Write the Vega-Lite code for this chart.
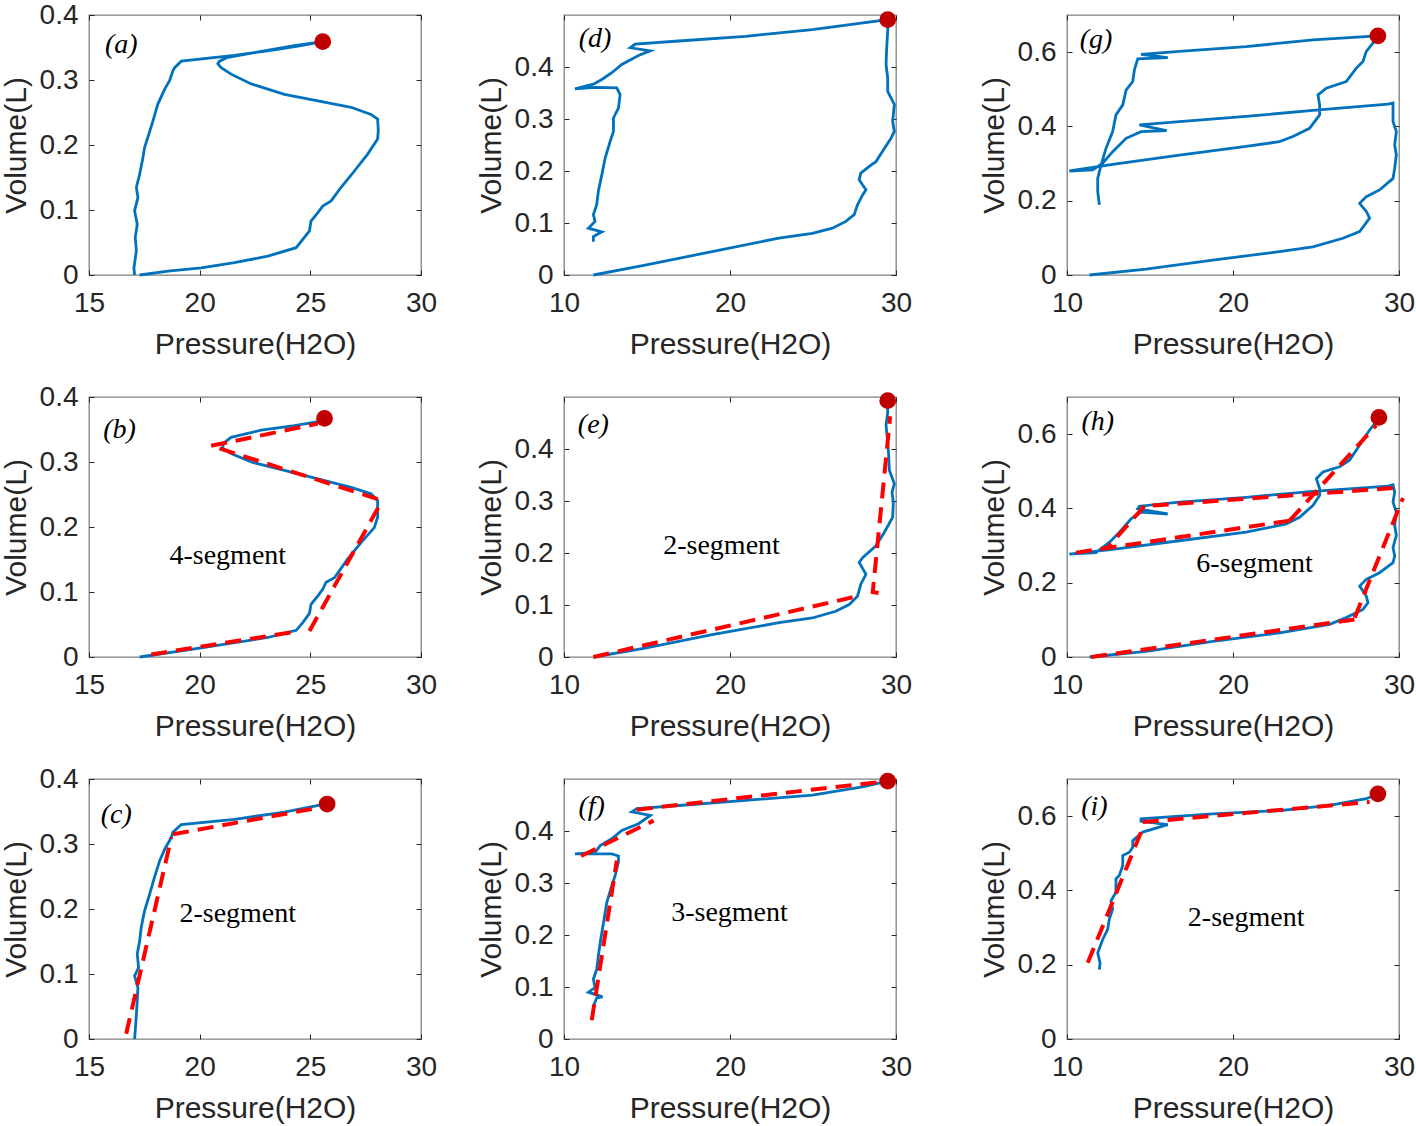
{
"$schema": "https://vega.github.io/schema/vega-lite/v6.json",
"background": "white",
"padding": {"left": 0, "top": 0, "right": 0, "bottom": 0},
"datasets": {
"blue": [
{"p":"a","x":17.06,"y":0},{"p":"a","x":17.03,"y":0.011},{"p":"a","x":17.14,"y":0.037},{"p":"a","x":17.09,"y":0.058},{"p":"a","x":17.18,"y":0.078},{"p":"a","x":17.06,"y":0.099},{"p":"a","x":17.21,"y":0.119},{"p":"a","x":17.14,"y":0.135},{"p":"a","x":17.29,"y":0.155},{"p":"a","x":17.44,"y":0.181},{"p":"a","x":17.51,"y":0.196},{"p":"a","x":17.66,"y":0.212},{"p":"a","x":17.89,"y":0.237},{"p":"a","x":18.11,"y":0.263},{"p":"a","x":18.42,"y":0.286},{"p":"a","x":18.64,"y":0.299},{"p":"a","x":18.79,"y":0.314},{"p":"a","x":18.87,"y":0.319},{"p":"a","x":19.17,"y":0.329},{"p":"a","x":21.57,"y":0.338},{"p":"a","x":23.08,"y":0.345},{"p":"a","x":24.58,"y":0.353},{"p":"a","x":25.56,"y":0.359},{"p":"a","x":24.28,"y":0.353},{"p":"a","x":22.78,"y":0.344},{"p":"a","x":21.27,"y":0.335},{"p":"a","x":20.9,"y":0.329},{"p":"a","x":20.82,"y":0.325},{"p":"a","x":20.97,"y":0.319},{"p":"a","x":21.42,"y":0.309},{"p":"a","x":22.33,"y":0.294},{"p":"a","x":23.83,"y":0.278},{"p":"a","x":25.34,"y":0.268},{"p":"a","x":26.84,"y":0.258},{"p":"a","x":27.74,"y":0.247},{"p":"a","x":28.04,"y":0.24},{"p":"a","x":28.07,"y":0.222},{"p":"a","x":28.04,"y":0.209},{"p":"a","x":27.59,"y":0.186},{"p":"a","x":26.99,"y":0.16},{"p":"a","x":26.39,"y":0.135},{"p":"a","x":25.94,"y":0.114},{"p":"a","x":25.56,"y":0.106},{"p":"a","x":25.34,"y":0.096},{"p":"a","x":25.03,"y":0.083},{"p":"a","x":24.96,"y":0.068},{"p":"a","x":24.73,"y":0.058},{"p":"a","x":24.36,"y":0.042},{"p":"a","x":23.08,"y":0.029},{"p":"a","x":21.57,"y":0.019},{"p":"a","x":20.07,"y":0.011},{"p":"a","x":18.57,"y":0.006},{"p":"a","x":17.29,"y":0},
{"p":"b","x":17.29,"y":0},{"p":"b","x":20.07,"y":0.014},{"p":"b","x":23.08,"y":0.03},{"p":"b","x":24.36,"y":0.041},{"p":"b","x":24.66,"y":0.053},{"p":"b","x":24.96,"y":0.067},{"p":"b","x":25.03,"y":0.081},{"p":"b","x":25.34,"y":0.094},{"p":"b","x":25.56,"y":0.104},{"p":"b","x":25.71,"y":0.115},{"p":"b","x":26.09,"y":0.122},{"p":"b","x":26.69,"y":0.151},{"p":"b","x":27.29,"y":0.176},{"p":"b","x":27.89,"y":0.199},{"p":"b","x":28.04,"y":0.215},{"p":"b","x":28.04,"y":0.241},{"p":"b","x":27.74,"y":0.251},{"p":"b","x":26.84,"y":0.261},{"p":"b","x":25.34,"y":0.274},{"p":"b","x":23.83,"y":0.287},{"p":"b","x":22.33,"y":0.3},{"p":"b","x":21.42,"y":0.313},{"p":"b","x":21.05,"y":0.321},{"p":"b","x":21.05,"y":0.328},{"p":"b","x":21.42,"y":0.338},{"p":"b","x":22.78,"y":0.349},{"p":"b","x":24.28,"y":0.356},{"p":"b","x":25.34,"y":0.362},
{"p":"c","x":17.06,"y":0},{"p":"c","x":17.09,"y":0.013},{"p":"c","x":17.14,"y":0.038},{"p":"c","x":17.18,"y":0.059},{"p":"c","x":17.21,"y":0.079},{"p":"c","x":17.06,"y":0.097},{"p":"c","x":17.24,"y":0.11},{"p":"c","x":17.18,"y":0.131},{"p":"c","x":17.29,"y":0.151},{"p":"c","x":17.36,"y":0.172},{"p":"c","x":17.51,"y":0.197},{"p":"c","x":17.74,"y":0.223},{"p":"c","x":17.96,"y":0.249},{"p":"c","x":18.19,"y":0.274},{"p":"c","x":18.42,"y":0.292},{"p":"c","x":18.72,"y":0.31},{"p":"c","x":18.79,"y":0.318},{"p":"c","x":19.17,"y":0.33},{"p":"c","x":21.57,"y":0.338},{"p":"c","x":23.83,"y":0.349},{"p":"c","x":25.76,"y":0.362},
{"p":"d","x":11.77,"y":0},{"p":"d","x":14.89,"y":0.019},{"p":"d","x":18.92,"y":0.045},{"p":"d","x":22.95,"y":0.071},{"p":"d","x":24.96,"y":0.08},{"p":"d","x":26.17,"y":0.09},{"p":"d","x":26.98,"y":0.103},{"p":"d","x":27.48,"y":0.116},{"p":"d","x":27.68,"y":0.135},{"p":"d","x":27.99,"y":0.154},{"p":"d","x":28.19,"y":0.164},{"p":"d","x":27.99,"y":0.173},{"p":"d","x":27.78,"y":0.183},{"p":"d","x":27.88,"y":0.196},{"p":"d","x":28.39,"y":0.209},{"p":"d","x":28.79,"y":0.218},{"p":"d","x":29.19,"y":0.238},{"p":"d","x":29.7,"y":0.263},{"p":"d","x":29.9,"y":0.276},{"p":"d","x":29.8,"y":0.295},{"p":"d","x":29.9,"y":0.328},{"p":"d","x":29.5,"y":0.353},{"p":"d","x":29.5,"y":0.379},{"p":"d","x":29.4,"y":0.405},{"p":"d","x":29.44,"y":0.437},{"p":"d","x":29.5,"y":0.469},{"p":"d","x":29.5,"y":0.491},{"p":"d","x":24.96,"y":0.472},{"p":"d","x":20.94,"y":0.459},{"p":"d","x":16.91,"y":0.45},{"p":"d","x":14.29,"y":0.444},{"p":"d","x":13.99,"y":0.437},{"p":"d","x":15.2,"y":0.431},{"p":"d","x":14.49,"y":0.422},{"p":"d","x":13.48,"y":0.405},{"p":"d","x":12.88,"y":0.389},{"p":"d","x":12.28,"y":0.376},{"p":"d","x":11.77,"y":0.367},{"p":"d","x":10.66,"y":0.358},{"p":"d","x":11.87,"y":0.361},{"p":"d","x":13.18,"y":0.36},{"p":"d","x":13.38,"y":0.347},{"p":"d","x":13.28,"y":0.321},{"p":"d","x":12.98,"y":0.302},{"p":"d","x":12.98,"y":0.276},{"p":"d","x":12.78,"y":0.257},{"p":"d","x":12.48,"y":0.225},{"p":"d","x":12.28,"y":0.193},{"p":"d","x":12.07,"y":0.161},{"p":"d","x":11.97,"y":0.135},{"p":"d","x":11.77,"y":0.116},{"p":"d","x":11.87,"y":0.103},{"p":"d","x":11.47,"y":0.09},{"p":"d","x":12.28,"y":0.083},{"p":"d","x":11.77,"y":0.074},{"p":"d","x":11.77,"y":0.064},
{"p":"e","x":11.77,"y":0},{"p":"e","x":14.89,"y":0.017},{"p":"e","x":18.92,"y":0.043},{"p":"e","x":22.95,"y":0.066},{"p":"e","x":24.96,"y":0.075},{"p":"e","x":26.37,"y":0.088},{"p":"e","x":27.18,"y":0.101},{"p":"e","x":27.68,"y":0.117},{"p":"e","x":27.88,"y":0.14},{"p":"e","x":28.19,"y":0.159},{"p":"e","x":27.78,"y":0.182},{"p":"e","x":27.99,"y":0.191},{"p":"e","x":28.79,"y":0.214},{"p":"e","x":29.3,"y":0.24},{"p":"e","x":29.8,"y":0.269},{"p":"e","x":29.84,"y":0.297},{"p":"e","x":29.76,"y":0.317},{"p":"e","x":29.9,"y":0.333},{"p":"e","x":29.6,"y":0.359},{"p":"e","x":29.56,"y":0.388},{"p":"e","x":29.5,"y":0.413},{"p":"e","x":29.4,"y":0.446},{"p":"e","x":29.5,"y":0.471},{"p":"e","x":29.5,"y":0.493},
{"p":"f","x":11.77,"y":0.063},{"p":"f","x":11.97,"y":0.079},{"p":"f","x":12.32,"y":0.081},{"p":"f","x":11.47,"y":0.09},{"p":"f","x":11.87,"y":0.099},{"p":"f","x":11.77,"y":0.115},{"p":"f","x":11.97,"y":0.134},{"p":"f","x":12.07,"y":0.16},{"p":"f","x":12.18,"y":0.185},{"p":"f","x":12.38,"y":0.224},{"p":"f","x":12.58,"y":0.263},{"p":"f","x":12.88,"y":0.295},{"p":"f","x":13.08,"y":0.314},{"p":"f","x":13.28,"y":0.34},{"p":"f","x":13.28,"y":0.352},{"p":"f","x":12.88,"y":0.356},{"p":"f","x":10.66,"y":0.356},{"p":"f","x":11.87,"y":0.359},{"p":"f","x":12.18,"y":0.372},{"p":"f","x":12.88,"y":0.385},{"p":"f","x":13.48,"y":0.401},{"p":"f","x":14.49,"y":0.414},{"p":"f","x":15.2,"y":0.43},{"p":"f","x":14.09,"y":0.437},{"p":"f","x":14.39,"y":0.443},{"p":"f","x":16.91,"y":0.449},{"p":"f","x":20.94,"y":0.459},{"p":"f","x":24.96,"y":0.469},{"p":"f","x":27.98,"y":0.485},{"p":"f","x":29.5,"y":0.496},
{"p":"g","x":11.35,"y":0},{"p":"g","x":14.76,"y":0.016},{"p":"g","x":18.78,"y":0.04},{"p":"g","x":22.8,"y":0.063},{"p":"g","x":24.81,"y":0.076},{"p":"g","x":26.62,"y":0.099},{"p":"g","x":27.63,"y":0.117},{"p":"g","x":28.23,"y":0.153},{"p":"g","x":28.03,"y":0.171},{"p":"g","x":27.63,"y":0.193},{"p":"g","x":28.03,"y":0.211},{"p":"g","x":28.83,"y":0.229},{"p":"g","x":29.64,"y":0.26},{"p":"g","x":29.74,"y":0.287},{"p":"g","x":29.84,"y":0.323},{"p":"g","x":29.74,"y":0.35},{"p":"g","x":29.84,"y":0.386},{"p":"g","x":29.64,"y":0.413},{"p":"g","x":29.64,"y":0.463},{"p":"g","x":29.34,"y":0.46},{"p":"g","x":24.81,"y":0.443},{"p":"g","x":20.79,"y":0.427},{"p":"g","x":16.77,"y":0.413},{"p":"g","x":14.36,"y":0.404},{"p":"g","x":16.0,"y":0.389},{"p":"g","x":14.46,"y":0.386},{"p":"g","x":13.56,"y":0.368},{"p":"g","x":12.75,"y":0.332},{"p":"g","x":12.15,"y":0.301},{"p":"g","x":11.55,"y":0.283},{"p":"g","x":10.14,"y":0.28},{"p":"g","x":12.75,"y":0.298},{"p":"g","x":16.77,"y":0.323},{"p":"g","x":20.79,"y":0.346},{"p":"g","x":22.8,"y":0.359},{"p":"g","x":23.61,"y":0.373},{"p":"g","x":24.61,"y":0.395},{"p":"g","x":25.22,"y":0.431},{"p":"g","x":25.22,"y":0.458},{"p":"g","x":25.12,"y":0.485},{"p":"g","x":25.62,"y":0.503},{"p":"g","x":26.82,"y":0.521},{"p":"g","x":27.43,"y":0.557},{"p":"g","x":27.83,"y":0.575},{"p":"g","x":28.03,"y":0.602},{"p":"g","x":28.43,"y":0.624},{"p":"g","x":28.73,"y":0.644},{"p":"g","x":24.81,"y":0.633},{"p":"g","x":20.79,"y":0.615},{"p":"g","x":16.77,"y":0.602},{"p":"g","x":14.46,"y":0.594},{"p":"g","x":16.07,"y":0.585},{"p":"g","x":14.26,"y":0.582},{"p":"g","x":14.06,"y":0.552},{"p":"g","x":13.96,"y":0.521},{"p":"g","x":13.56,"y":0.498},{"p":"g","x":13.36,"y":0.458},{"p":"g","x":12.95,"y":0.431},{"p":"g","x":12.75,"y":0.386},{"p":"g","x":12.35,"y":0.341},{"p":"g","x":12.05,"y":0.296},{"p":"g","x":11.85,"y":0.26},{"p":"g","x":11.85,"y":0.225},{"p":"g","x":11.95,"y":0.189},
{"p":"h","x":11.35,"y":0},{"p":"h","x":14.76,"y":0.015},{"p":"h","x":18.78,"y":0.042},{"p":"h","x":22.8,"y":0.065},{"p":"h","x":25.82,"y":0.088},{"p":"h","x":26.82,"y":0.106},{"p":"h","x":27.83,"y":0.128},{"p":"h","x":28.13,"y":0.146},{"p":"h","x":28.03,"y":0.164},{"p":"h","x":27.63,"y":0.191},{"p":"h","x":28.03,"y":0.209},{"p":"h","x":28.83,"y":0.227},{"p":"h","x":29.64,"y":0.254},{"p":"h","x":29.74,"y":0.272},{"p":"h","x":29.64,"y":0.295},{"p":"h","x":29.84,"y":0.327},{"p":"h","x":29.74,"y":0.354},{"p":"h","x":29.84,"y":0.39},{"p":"h","x":29.64,"y":0.417},{"p":"h","x":29.74,"y":0.444},{"p":"h","x":29.64,"y":0.464},{"p":"h","x":29.34,"y":0.46},{"p":"h","x":24.81,"y":0.446},{"p":"h","x":20.79,"y":0.43},{"p":"h","x":16.77,"y":0.417},{"p":"h","x":14.36,"y":0.406},{"p":"h","x":14.26,"y":0.399},{"p":"h","x":16.07,"y":0.385},{"p":"h","x":14.46,"y":0.39},{"p":"h","x":13.86,"y":0.372},{"p":"h","x":13.16,"y":0.336},{"p":"h","x":12.56,"y":0.309},{"p":"h","x":11.75,"y":0.281},{"p":"h","x":10.14,"y":0.277},{"p":"h","x":12.75,"y":0.29},{"p":"h","x":16.77,"y":0.313},{"p":"h","x":20.79,"y":0.336},{"p":"h","x":23.21,"y":0.358},{"p":"h","x":24.01,"y":0.376},{"p":"h","x":24.81,"y":0.408},{"p":"h","x":25.22,"y":0.435},{"p":"h","x":25.22,"y":0.453},{"p":"h","x":25.02,"y":0.48},{"p":"h","x":25.42,"y":0.498},{"p":"h","x":26.42,"y":0.512},{"p":"h","x":27.02,"y":0.53},{"p":"h","x":27.43,"y":0.557},{"p":"h","x":27.83,"y":0.584},{"p":"h","x":28.23,"y":0.611},{"p":"h","x":28.63,"y":0.633},
{"p":"i","x":11.95,"y":0.187},{"p":"i","x":11.99,"y":0.205},{"p":"i","x":11.85,"y":0.232},{"p":"i","x":12.15,"y":0.268},{"p":"i","x":12.45,"y":0.295},{"p":"i","x":12.55,"y":0.323},{"p":"i","x":12.75,"y":0.35},{"p":"i","x":12.65,"y":0.372},{"p":"i","x":12.95,"y":0.395},{"p":"i","x":12.95,"y":0.431},{"p":"i","x":13.15,"y":0.44},{"p":"i","x":13.36,"y":0.467},{"p":"i","x":13.36,"y":0.494},{"p":"i","x":13.76,"y":0.503},{"p":"i","x":13.96,"y":0.516},{"p":"i","x":13.96,"y":0.534},{"p":"i","x":14.56,"y":0.557},{"p":"i","x":16.07,"y":0.577},{"p":"i","x":14.46,"y":0.586},{"p":"i","x":14.46,"y":0.593},{"p":"i","x":18.78,"y":0.606},{"p":"i","x":22.8,"y":0.615},{"p":"i","x":25.82,"y":0.629},{"p":"i","x":28.03,"y":0.647},{"p":"i","x":28.73,"y":0.66}
],
"red": [
{"p":"b","s":1,"x":17.81,"y":0.004},{"p":"b","s":1,"x":24.36,"y":0.039},
{"p":"b","s":2,"x":24.96,"y":0.04},{"p":"b","s":2,"x":28.12,"y":0.233},
{"p":"b","s":3,"x":28.04,"y":0.243},{"p":"b","s":3,"x":20.52,"y":0.325},
{"p":"b","s":4,"x":20.52,"y":0.325},{"p":"b","s":4,"x":25.34,"y":0.359},
{"p":"c","s":1,"x":16.68,"y":0.008},{"p":"c","s":1,"x":18.72,"y":0.31},
{"p":"c","s":2,"x":18.8,"y":0.315},{"p":"c","s":2,"x":25.56,"y":0.357},
{"p":"e","s":1,"x":11.77,"y":0},{"p":"e","s":1,"x":27.68,"y":0.117},
{"p":"e","s":2,"x":28.95,"y":0.123},{"p":"e","s":2,"x":28.6,"y":0.125},{"p":"e","s":2,"x":29.65,"y":0.463},
{"p":"f","s":1,"x":11.67,"y":0.036},{"p":"f","s":1,"x":13.18,"y":0.343},
{"p":"f","s":2,"x":11.03,"y":0.352},{"p":"f","s":2,"x":15.4,"y":0.42},
{"p":"f","s":3,"x":14.39,"y":0.441},{"p":"f","s":3,"x":29.5,"y":0.496},
{"p":"h","s":1,"x":11.45,"y":0},{"p":"h","s":1,"x":27.63,"y":0.103},
{"p":"h","s":2,"x":27.33,"y":0.106},{"p":"h","s":2,"x":30.24,"y":0.428},
{"p":"h","s":3,"x":29.64,"y":0.455},{"p":"h","s":3,"x":14.66,"y":0.406},
{"p":"h","s":4,"x":14.66,"y":0.406},{"p":"h","s":4,"x":12.45,"y":0.295},
{"p":"h","s":5,"x":10.54,"y":0.281},{"p":"h","s":5,"x":23.41,"y":0.367},
{"p":"h","s":6,"x":23.41,"y":0.367},{"p":"h","s":6,"x":28.63,"y":0.624},
{"p":"i","s":1,"x":11.25,"y":0.205},{"p":"i","s":1,"x":14.46,"y":0.557},
{"p":"i","s":2,"x":14.56,"y":0.584},{"p":"i","s":2,"x":28.23,"y":0.638}
],
"dots": [
{"p":"a","x":25.56,"y":0.359},{"p":"b","x":25.64,"y":0.367},{"p":"c","x":25.76,"y":0.3615},
{"p":"d","x":29.5,"y":0.491},{"p":"e","x":29.5,"y":0.493},{"p":"f","x":29.5,"y":0.496},
{"p":"g","x":28.73,"y":0.644},{"p":"h","x":28.79,"y":0.645},{"p":"i","x":28.73,"y":0.66}
],
"tags": [
{"p":"a","t":"(a)","x":16.46,"y":0.354},{"p":"b","t":"(b)","x":16.38,"y":0.349},{"p":"c","t":"(c)","x":16.23,"y":0.344},
{"p":"d","t":"(d)","x":11.87,"y":0.453},{"p":"e","t":"(e)","x":11.77,"y":0.446},{"p":"f","t":"(f)","x":11.67,"y":0.446},
{"p":"g","t":"(g)","x":11.75,"y":0.633},{"p":"h","t":"(h)","x":11.85,"y":0.633},{"p":"i","t":"(i)","x":11.65,"y":0.624}
],
"notes": [
{"p":"b","t":"4-segment","x":21.27,"y":0.156},{"p":"c","t":"2-segment","x":21.72,"y":0.193},
{"p":"e","t":"2-segment","x":19.49,"y":0.214},{"p":"f","t":"3-segment","x":19.97,"y":0.243},
{"p":"h","t":"6-segment","x":21.3,"y":0.25},{"p":"i","t":"2-segment","x":20.79,"y":0.327}
]
},
"hconcat": [
{"vconcat": [
{"width": 332, "height": 260, "resolve": {"axis": {"x": "independent", "y": "independent"}}, "layer": [
{"data": {"name": "blue"}, "transform": [{"filter": "datum.p=='a'"}], "mark": {"type": "line", "color": "#0072BD", "strokeWidth": 2.8},
 "encoding": {"x": {"field": "x", "type": "quantitative", "scale": {"domain": [15, 30], "nice": false}, "axis": {"title": "Pressure(H2O)", "values": [15, 20, 25, 30], "format": "~g"}},
  "y": {"field": "y", "type": "quantitative", "scale": {"domain": [0, 0.4], "nice": false}, "axis": {"title": "Volume(L)", "values": [0, 0.1, 0.2, 0.3, 0.4], "format": "~g"}},
  "order": {"value": null}}},
{"data": {"name": "dots"}, "transform": [{"filter": "datum.p=='a'"}], "mark": {"type": "point", "filled": true, "color": "#C00000", "opacity": 1, "size": 280},
 "encoding": {"x": {"field": "x", "type": "quantitative", "axis": {"orient": "top", "labels": false, "title": null, "values": [15, 20, 25, 30]}},
  "y": {"field": "y", "type": "quantitative", "axis": {"orient": "right", "labels": false, "title": null, "values": [0, 0.1, 0.2, 0.3, 0.4]}}}},
{"data": {"name": "tags"}, "transform": [{"filter": "datum.p=='a'"}], "mark": {"type": "text", "font": "Liberation Serif", "fontSize": 28, "fontStyle": "italic", "color": "#000000"},
 "encoding": {"x": {"field": "x", "type": "quantitative", "axis": null}, "y": {"field": "y", "type": "quantitative", "axis": null}, "text": {"field": "t"}}}
]},
{"width": 332, "height": 260, "resolve": {"axis": {"x": "independent", "y": "independent"}}, "layer": [
{"data": {"name": "blue"}, "transform": [{"filter": "datum.p=='b'"}], "mark": {"type": "line", "color": "#0072BD", "strokeWidth": 2.8},
 "encoding": {"x": {"field": "x", "type": "quantitative", "scale": {"domain": [15, 30], "nice": false}, "axis": {"title": "Pressure(H2O)", "values": [15, 20, 25, 30], "format": "~g"}},
  "y": {"field": "y", "type": "quantitative", "scale": {"domain": [0, 0.4], "nice": false}, "axis": {"title": "Volume(L)", "values": [0, 0.1, 0.2, 0.3, 0.4], "format": "~g"}},
  "order": {"value": null}}},
{"data": {"name": "red"}, "transform": [{"filter": "datum.p=='b'"}], "mark": {"type": "line", "color": "#FF0000", "strokeWidth": 4, "strokeDash": [16, 9]},
 "encoding": {"x": {"field": "x", "type": "quantitative", "axis": null}, "y": {"field": "y", "type": "quantitative", "axis": null}, "detail": {"field": "s", "type": "nominal"}, "order": {"value": null}}},
{"data": {"name": "dots"}, "transform": [{"filter": "datum.p=='b'"}], "mark": {"type": "point", "filled": true, "color": "#C00000", "opacity": 1, "size": 280},
 "encoding": {"x": {"field": "x", "type": "quantitative", "axis": {"orient": "top", "labels": false, "title": null, "values": [15, 20, 25, 30]}},
  "y": {"field": "y", "type": "quantitative", "axis": {"orient": "right", "labels": false, "title": null, "values": [0, 0.1, 0.2, 0.3, 0.4]}}}},
{"data": {"name": "tags"}, "transform": [{"filter": "datum.p=='b'"}], "mark": {"type": "text", "font": "Liberation Serif", "fontSize": 28, "fontStyle": "italic", "color": "#000000"},
 "encoding": {"x": {"field": "x", "type": "quantitative", "axis": null}, "y": {"field": "y", "type": "quantitative", "axis": null}, "text": {"field": "t"}}},
{"data": {"name": "notes"}, "transform": [{"filter": "datum.p=='b'"}], "mark": {"type": "text", "font": "Liberation Serif", "fontSize": 28, "color": "#000000"},
 "encoding": {"x": {"field": "x", "type": "quantitative", "axis": null}, "y": {"field": "y", "type": "quantitative", "axis": null}, "text": {"field": "t"}}}
]},
{"width": 332, "height": 260, "resolve": {"axis": {"x": "independent", "y": "independent"}}, "layer": [
{"data": {"name": "blue"}, "transform": [{"filter": "datum.p=='c'"}], "mark": {"type": "line", "color": "#0072BD", "strokeWidth": 2.8},
 "encoding": {"x": {"field": "x", "type": "quantitative", "scale": {"domain": [15, 30], "nice": false}, "axis": {"title": "Pressure(H2O)", "values": [15, 20, 25, 30], "format": "~g"}},
  "y": {"field": "y", "type": "quantitative", "scale": {"domain": [0, 0.4], "nice": false}, "axis": {"title": "Volume(L)", "values": [0, 0.1, 0.2, 0.3, 0.4], "format": "~g"}},
  "order": {"value": null}}},
{"data": {"name": "red"}, "transform": [{"filter": "datum.p=='c'"}], "mark": {"type": "line", "color": "#FF0000", "strokeWidth": 4, "strokeDash": [16, 9]},
 "encoding": {"x": {"field": "x", "type": "quantitative", "axis": null}, "y": {"field": "y", "type": "quantitative", "axis": null}, "detail": {"field": "s", "type": "nominal"}, "order": {"value": null}}},
{"data": {"name": "dots"}, "transform": [{"filter": "datum.p=='c'"}], "mark": {"type": "point", "filled": true, "color": "#C00000", "opacity": 1, "size": 280},
 "encoding": {"x": {"field": "x", "type": "quantitative", "axis": {"orient": "top", "labels": false, "title": null, "values": [15, 20, 25, 30]}},
  "y": {"field": "y", "type": "quantitative", "axis": {"orient": "right", "labels": false, "title": null, "values": [0, 0.1, 0.2, 0.3, 0.4]}}}},
{"data": {"name": "tags"}, "transform": [{"filter": "datum.p=='c'"}], "mark": {"type": "text", "font": "Liberation Serif", "fontSize": 28, "fontStyle": "italic", "color": "#000000"},
 "encoding": {"x": {"field": "x", "type": "quantitative", "axis": null}, "y": {"field": "y", "type": "quantitative", "axis": null}, "text": {"field": "t"}}},
{"data": {"name": "notes"}, "transform": [{"filter": "datum.p=='c'"}], "mark": {"type": "text", "font": "Liberation Serif", "fontSize": 28, "color": "#000000"},
 "encoding": {"x": {"field": "x", "type": "quantitative", "axis": null}, "y": {"field": "y", "type": "quantitative", "axis": null}, "text": {"field": "t"}}}
]}
], "spacing": 122, "bounds": "flush"},
{"vconcat": [
{"width": 332, "height": 260, "resolve": {"axis": {"x": "independent", "y": "independent"}}, "layer": [
{"data": {"name": "blue"}, "transform": [{"filter": "datum.p=='d'"}], "mark": {"type": "line", "color": "#0072BD", "strokeWidth": 2.8},
 "encoding": {"x": {"field": "x", "type": "quantitative", "scale": {"domain": [10, 30], "nice": false}, "axis": {"title": "Pressure(H2O)", "values": [10, 20, 30], "format": "~g"}},
  "y": {"field": "y", "type": "quantitative", "scale": {"domain": [0, 0.5], "nice": false}, "axis": {"title": "Volume(L)", "values": [0, 0.1, 0.2, 0.3, 0.4], "format": "~g"}},
  "order": {"value": null}}},
{"data": {"name": "dots"}, "transform": [{"filter": "datum.p=='d'"}], "mark": {"type": "point", "filled": true, "color": "#C00000", "opacity": 1, "size": 280},
 "encoding": {"x": {"field": "x", "type": "quantitative", "axis": {"orient": "top", "labels": false, "title": null, "values": [10, 20, 30]}},
  "y": {"field": "y", "type": "quantitative", "axis": {"orient": "right", "labels": false, "title": " ", "titleFontSize": 30, "titlePadding": 13, "titleColor": "#ffffff", "values": [0, 0.1, 0.2, 0.3, 0.4]}}}},
{"data": {"name": "tags"}, "transform": [{"filter": "datum.p=='d'"}], "mark": {"type": "text", "font": "Liberation Serif", "fontSize": 28, "fontStyle": "italic", "color": "#000000"},
 "encoding": {"x": {"field": "x", "type": "quantitative", "axis": null}, "y": {"field": "y", "type": "quantitative", "axis": null}, "text": {"field": "t"}}}
]},
{"width": 332, "height": 260, "resolve": {"axis": {"x": "independent", "y": "independent"}}, "layer": [
{"data": {"name": "blue"}, "transform": [{"filter": "datum.p=='e'"}], "mark": {"type": "line", "color": "#0072BD", "strokeWidth": 2.8},
 "encoding": {"x": {"field": "x", "type": "quantitative", "scale": {"domain": [10, 30], "nice": false}, "axis": {"title": "Pressure(H2O)", "values": [10, 20, 30], "format": "~g"}},
  "y": {"field": "y", "type": "quantitative", "scale": {"domain": [0, 0.5], "nice": false}, "axis": {"title": "Volume(L)", "values": [0, 0.1, 0.2, 0.3, 0.4], "format": "~g"}},
  "order": {"value": null}}},
{"data": {"name": "red"}, "transform": [{"filter": "datum.p=='e'"}], "mark": {"type": "line", "color": "#FF0000", "strokeWidth": 4, "strokeDash": [16, 9]},
 "encoding": {"x": {"field": "x", "type": "quantitative", "axis": null}, "y": {"field": "y", "type": "quantitative", "axis": null}, "detail": {"field": "s", "type": "nominal"}, "order": {"value": null}}},
{"data": {"name": "dots"}, "transform": [{"filter": "datum.p=='e'"}], "mark": {"type": "point", "filled": true, "color": "#C00000", "opacity": 1, "size": 280},
 "encoding": {"x": {"field": "x", "type": "quantitative", "axis": {"orient": "top", "labels": false, "title": null, "values": [10, 20, 30]}},
  "y": {"field": "y", "type": "quantitative", "axis": {"orient": "right", "labels": false, "title": null, "values": [0, 0.1, 0.2, 0.3, 0.4]}}}},
{"data": {"name": "tags"}, "transform": [{"filter": "datum.p=='e'"}], "mark": {"type": "text", "font": "Liberation Serif", "fontSize": 28, "fontStyle": "italic", "color": "#000000"},
 "encoding": {"x": {"field": "x", "type": "quantitative", "axis": null}, "y": {"field": "y", "type": "quantitative", "axis": null}, "text": {"field": "t"}}},
{"data": {"name": "notes"}, "transform": [{"filter": "datum.p=='e'"}], "mark": {"type": "text", "font": "Liberation Serif", "fontSize": 28, "color": "#000000"},
 "encoding": {"x": {"field": "x", "type": "quantitative", "axis": null}, "y": {"field": "y", "type": "quantitative", "axis": null}, "text": {"field": "t"}}}
]},
{"width": 332, "height": 260, "resolve": {"axis": {"x": "independent", "y": "independent"}}, "layer": [
{"data": {"name": "blue"}, "transform": [{"filter": "datum.p=='f'"}], "mark": {"type": "line", "color": "#0072BD", "strokeWidth": 2.8},
 "encoding": {"x": {"field": "x", "type": "quantitative", "scale": {"domain": [10, 30], "nice": false}, "axis": {"title": "Pressure(H2O)", "values": [10, 20, 30], "format": "~g"}},
  "y": {"field": "y", "type": "quantitative", "scale": {"domain": [0, 0.5], "nice": false}, "axis": {"title": "Volume(L)", "values": [0, 0.1, 0.2, 0.3, 0.4], "format": "~g"}},
  "order": {"value": null}}},
{"data": {"name": "red"}, "transform": [{"filter": "datum.p=='f'"}], "mark": {"type": "line", "color": "#FF0000", "strokeWidth": 4, "strokeDash": [16, 9]},
 "encoding": {"x": {"field": "x", "type": "quantitative", "axis": null}, "y": {"field": "y", "type": "quantitative", "axis": null}, "detail": {"field": "s", "type": "nominal"}, "order": {"value": null}}},
{"data": {"name": "dots"}, "transform": [{"filter": "datum.p=='f'"}], "mark": {"type": "point", "filled": true, "color": "#C00000", "opacity": 1, "size": 280},
 "encoding": {"x": {"field": "x", "type": "quantitative", "axis": {"orient": "top", "labels": false, "title": null, "values": [10, 20, 30]}},
  "y": {"field": "y", "type": "quantitative", "axis": {"orient": "right", "labels": false, "title": null, "values": [0, 0.1, 0.2, 0.3, 0.4]}}}},
{"data": {"name": "tags"}, "transform": [{"filter": "datum.p=='f'"}], "mark": {"type": "text", "font": "Liberation Serif", "fontSize": 28, "fontStyle": "italic", "color": "#000000"},
 "encoding": {"x": {"field": "x", "type": "quantitative", "axis": null}, "y": {"field": "y", "type": "quantitative", "axis": null}, "text": {"field": "t"}}},
{"data": {"name": "notes"}, "transform": [{"filter": "datum.p=='f'"}], "mark": {"type": "text", "font": "Liberation Serif", "fontSize": 28, "color": "#000000"},
 "encoding": {"x": {"field": "x", "type": "quantitative", "axis": null}, "y": {"field": "y", "type": "quantitative", "axis": null}, "text": {"field": "t"}}}
]}
], "spacing": 122, "bounds": "flush"},
{"vconcat": [
{"width": 332, "height": 260, "resolve": {"axis": {"x": "independent", "y": "independent"}}, "layer": [
{"data": {"name": "blue"}, "transform": [{"filter": "datum.p=='g'"}], "mark": {"type": "line", "color": "#0072BD", "strokeWidth": 2.8},
 "encoding": {"x": {"field": "x", "type": "quantitative", "scale": {"domain": [10, 30], "nice": false}, "axis": {"title": "Pressure(H2O)", "values": [10, 20, 30], "format": "~g"}},
  "y": {"field": "y", "type": "quantitative", "scale": {"domain": [0, 0.7], "nice": false}, "axis": {"title": "Volume(L)", "values": [0, 0.2, 0.4, 0.6], "format": "~g"}},
  "order": {"value": null}}},
{"data": {"name": "dots"}, "transform": [{"filter": "datum.p=='g'"}], "mark": {"type": "point", "filled": true, "color": "#C00000", "opacity": 1, "size": 280},
 "encoding": {"x": {"field": "x", "type": "quantitative", "axis": {"orient": "top", "labels": false, "title": null, "values": [10, 20, 30]}},
  "y": {"field": "y", "type": "quantitative", "axis": {"orient": "right", "labels": false, "title": null, "values": [0, 0.2, 0.4, 0.6]}}}},
{"data": {"name": "tags"}, "transform": [{"filter": "datum.p=='g'"}], "mark": {"type": "text", "font": "Liberation Serif", "fontSize": 28, "fontStyle": "italic", "color": "#000000"},
 "encoding": {"x": {"field": "x", "type": "quantitative", "axis": null}, "y": {"field": "y", "type": "quantitative", "axis": null}, "text": {"field": "t"}}}
]},
{"width": 332, "height": 260, "resolve": {"axis": {"x": "independent", "y": "independent"}}, "layer": [
{"data": {"name": "blue"}, "transform": [{"filter": "datum.p=='h'"}], "mark": {"type": "line", "color": "#0072BD", "strokeWidth": 2.8},
 "encoding": {"x": {"field": "x", "type": "quantitative", "scale": {"domain": [10, 30], "nice": false}, "axis": {"title": "Pressure(H2O)", "values": [10, 20, 30], "format": "~g"}},
  "y": {"field": "y", "type": "quantitative", "scale": {"domain": [0, 0.7], "nice": false}, "axis": {"title": "Volume(L)", "values": [0, 0.2, 0.4, 0.6], "format": "~g"}},
  "order": {"value": null}}},
{"data": {"name": "red"}, "transform": [{"filter": "datum.p=='h'"}], "mark": {"type": "line", "color": "#FF0000", "strokeWidth": 4, "strokeDash": [16, 9]},
 "encoding": {"x": {"field": "x", "type": "quantitative", "axis": null}, "y": {"field": "y", "type": "quantitative", "axis": null}, "detail": {"field": "s", "type": "nominal"}, "order": {"value": null}}},
{"data": {"name": "dots"}, "transform": [{"filter": "datum.p=='h'"}], "mark": {"type": "point", "filled": true, "color": "#C00000", "opacity": 1, "size": 280},
 "encoding": {"x": {"field": "x", "type": "quantitative", "axis": {"orient": "top", "labels": false, "title": null, "values": [10, 20, 30]}},
  "y": {"field": "y", "type": "quantitative", "axis": {"orient": "right", "labels": false, "title": null, "values": [0, 0.2, 0.4, 0.6]}}}},
{"data": {"name": "tags"}, "transform": [{"filter": "datum.p=='h'"}], "mark": {"type": "text", "font": "Liberation Serif", "fontSize": 28, "fontStyle": "italic", "color": "#000000"},
 "encoding": {"x": {"field": "x", "type": "quantitative", "axis": null}, "y": {"field": "y", "type": "quantitative", "axis": null}, "text": {"field": "t"}}},
{"data": {"name": "notes"}, "transform": [{"filter": "datum.p=='h'"}], "mark": {"type": "text", "font": "Liberation Serif", "fontSize": 28, "color": "#000000"},
 "encoding": {"x": {"field": "x", "type": "quantitative", "axis": null}, "y": {"field": "y", "type": "quantitative", "axis": null}, "text": {"field": "t"}}}
]},
{"width": 332, "height": 260, "resolve": {"axis": {"x": "independent", "y": "independent"}}, "layer": [
{"data": {"name": "blue"}, "transform": [{"filter": "datum.p=='i'"}], "mark": {"type": "line", "color": "#0072BD", "strokeWidth": 2.8},
 "encoding": {"x": {"field": "x", "type": "quantitative", "scale": {"domain": [10, 30], "nice": false}, "axis": {"title": "Pressure(H2O)", "values": [10, 20, 30], "format": "~g"}},
  "y": {"field": "y", "type": "quantitative", "scale": {"domain": [0, 0.7], "nice": false}, "axis": {"title": "Volume(L)", "values": [0, 0.2, 0.4, 0.6], "format": "~g"}},
  "order": {"value": null}}},
{"data": {"name": "red"}, "transform": [{"filter": "datum.p=='i'"}], "mark": {"type": "line", "color": "#FF0000", "strokeWidth": 4, "strokeDash": [16, 9]},
 "encoding": {"x": {"field": "x", "type": "quantitative", "axis": null}, "y": {"field": "y", "type": "quantitative", "axis": null}, "detail": {"field": "s", "type": "nominal"}, "order": {"value": null}}},
{"data": {"name": "dots"}, "transform": [{"filter": "datum.p=='i'"}], "mark": {"type": "point", "filled": true, "color": "#C00000", "opacity": 1, "size": 280},
 "encoding": {"x": {"field": "x", "type": "quantitative", "axis": {"orient": "top", "labels": false, "title": null, "values": [10, 20, 30]}},
  "y": {"field": "y", "type": "quantitative", "axis": {"orient": "right", "labels": false, "title": null, "values": [0, 0.2, 0.4, 0.6]}}}},
{"data": {"name": "tags"}, "transform": [{"filter": "datum.p=='i'"}], "mark": {"type": "text", "font": "Liberation Serif", "fontSize": 28, "fontStyle": "italic", "color": "#000000"},
 "encoding": {"x": {"field": "x", "type": "quantitative", "axis": null}, "y": {"field": "y", "type": "quantitative", "axis": null}, "text": {"field": "t"}}},
{"data": {"name": "notes"}, "transform": [{"filter": "datum.p=='i'"}], "mark": {"type": "text", "font": "Liberation Serif", "fontSize": 28, "color": "#000000"},
 "encoding": {"x": {"field": "x", "type": "quantitative", "axis": null}, "y": {"field": "y", "type": "quantitative", "axis": null}, "text": {"field": "t"}}}
]}
], "spacing": 122, "bounds": "flush"}
],
"spacing": 37,
"config": {
 "view": {"stroke": "#808080", "strokeWidth": 1.3},
 "axis": {"grid": false, "domain": false, "ticks": true, "tickSize": -5, "tickColor": "#262626", "tickWidth": 1, "labelFont": "Liberation Sans", "labelFontSize": 28, "labelColor": "#262626", "titleFont": "Liberation Sans", "titleFontSize": 30, "titleFontWeight": "normal", "titleColor": "#262626", "labelFlush": false, "labelOverlap": false},
 "axisX": {"labelPadding": 19, "titlePadding": 12},
 "axisY": {"labelPadding": 16, "titlePadding": 8}
}
}
